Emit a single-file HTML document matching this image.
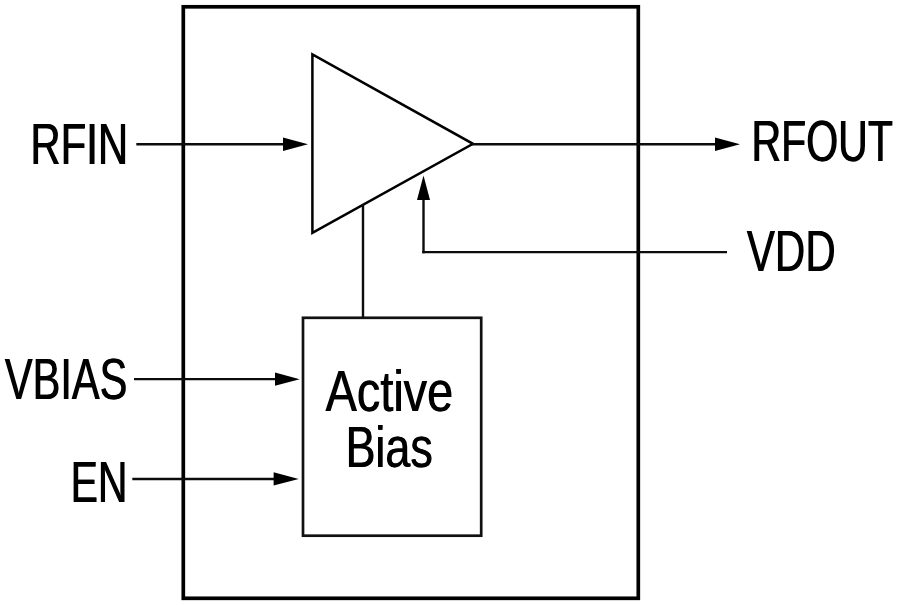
<!DOCTYPE html>
<html><head><meta charset="utf-8"><style>
html,body{margin:0;padding:0;background:#fff;width:900px;height:605px;overflow:hidden}
svg{display:block;will-change:transform}
text{font-family:"Liberation Sans",sans-serif;fill:#000}
</style></head><body>
<svg width="900" height="605" viewBox="0 0 900 605">
<rect x="183.3" y="6.8" width="455" height="591.5" fill="none" stroke="#000" stroke-width="3.7"/>
<polygon points="312.4,54.4 312.4,232.8 473,143.8" fill="none" stroke="#000" stroke-width="2.5"/>
<rect x="303" y="317.8" width="178.2" height="217.9" fill="none" stroke="#111" stroke-width="2.7"/>
<g stroke="#0c0c0c" stroke-width="2.4" fill="none">
<line x1="136.3" y1="144.3" x2="285" y2="144.3"/>
<line x1="472" y1="144.3" x2="717" y2="144.3"/>
<line x1="727" y1="252.15" x2="422.3" y2="252.15"/>
<line x1="423.5" y1="253.3" x2="423.5" y2="198"/>
<line x1="363.0" y1="204" x2="363.0" y2="318"/>
<line x1="134" y1="379.15" x2="277" y2="379.15"/>
<line x1="132.3" y1="478.95" x2="276" y2="478.95"/>
</g>
<g fill="#000">
<polygon points="283,137.6 283,151 308,144.3"/>
<polygon points="715,137.6 715,151 740,144.3"/>
<polygon points="423.5,175.6 417,200 430,200"/>
<polygon points="275,372.4 275,385.8 299.7,379.15"/>
<polygon points="273.6,472.3 273.6,485.6 298.7,478.95"/>
</g>
<text x="29.96" y="163.6" font-size="58" textLength="97.88" lengthAdjust="spacingAndGlyphs">RFIN</text>
<text x="30.76" y="163.6" font-size="58" textLength="97.88" lengthAdjust="spacingAndGlyphs">RFIN</text>
<text x="751.12" y="161.2" font-size="58" textLength="141.46" lengthAdjust="spacingAndGlyphs">RFOUT</text>
<text x="751.92" y="161.2" font-size="58" textLength="141.46" lengthAdjust="spacingAndGlyphs">RFOUT</text>
<text x="746.52" y="271.1" font-size="58" textLength="88.72" lengthAdjust="spacingAndGlyphs">VDD</text>
<text x="747.32" y="271.1" font-size="58" textLength="88.72" lengthAdjust="spacingAndGlyphs">VDD</text>
<text x="4.46" y="398.8" font-size="58" textLength="122.4" lengthAdjust="spacingAndGlyphs">VBIAS</text>
<text x="5.26" y="398.8" font-size="58" textLength="122.4" lengthAdjust="spacingAndGlyphs">VBIAS</text>
<text x="70.14" y="501.6" font-size="58" textLength="56.98" lengthAdjust="spacingAndGlyphs">EN</text>
<text x="70.94" y="501.6" font-size="58" textLength="56.98" lengthAdjust="spacingAndGlyphs">EN</text>
<text x="325.28" y="410.5" font-size="58" textLength="127.46" lengthAdjust="spacingAndGlyphs">Active</text>
<text x="326.08" y="410.5" font-size="58" textLength="127.46" lengthAdjust="spacingAndGlyphs">Active</text>
<text x="345.14" y="466.5" font-size="58" textLength="87.22" lengthAdjust="spacingAndGlyphs">Bias</text>
<text x="345.94" y="466.5" font-size="58" textLength="87.22" lengthAdjust="spacingAndGlyphs">Bias</text>
</svg>
</body></html>
